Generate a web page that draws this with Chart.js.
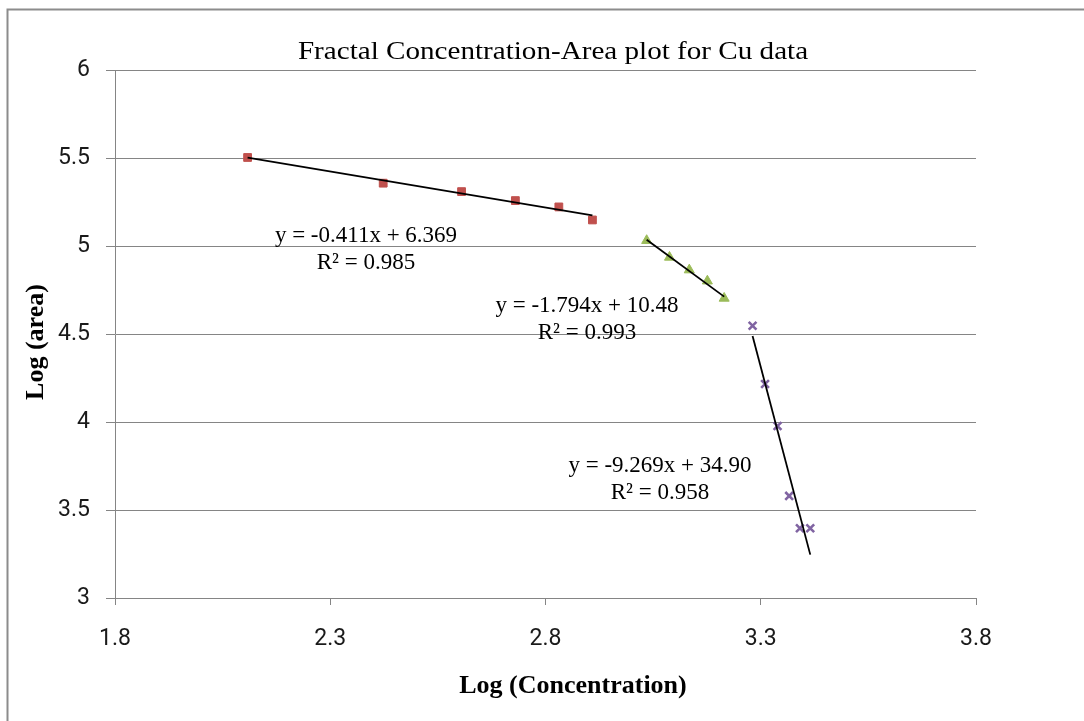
<!DOCTYPE html>
<html>
<head>
<meta charset="utf-8">
<script src="https://cdn.jsdelivr.net/npm/chart.js@4/dist/chart.umd.min.js"></script>
<style>
  html, body { margin: 0; padding: 0; background: #ffffff; }
  #wrap { position: relative; width: 1084px; height: 721px; overflow: hidden; }
  canvas { display: block; }
</style>
</head>
<body>
<div id="wrap"><canvas id="chart" width="1084" height="721"></canvas></div>
<script>
// Log(concentration) / Log(area) pairs for the three Cu populations
const highConcX = [2.108, 2.423, 2.605, 2.730, 2.831, 2.909];
const highConcY = [5.503, 5.357, 5.309, 5.258, 5.222, 5.148];
const midConcX = [3.035, 3.088, 3.134, 3.176, 3.215];
const midConcY = [5.031, 4.936, 4.864, 4.801, 4.703];
const lowConcX = [3.281, 3.310, 3.339, 3.366, 3.391, 3.415];
const lowConcY = [4.547, 4.216, 3.977, 3.580, 3.396, 3.396];

// Linear fits for each population: y = slope * x + intercept
const fitSlopes = [-0.411, -1.794, -9.269];
const fitIntercepts = [6.369, 10.48, 34.90];
const fitR2 = [0.985, 0.993, 0.958];

// Axis ticks
const xTickValues = [1.8, 2.3, 2.8, 3.3, 3.8];
const yTickValues = [3, 3.5, 4, 4.5, 5, 5.5, 6];

const pairs = (xs, ys) => xs.map((x, i) => ({ x: x, y: ys[i] }));
const fitLine = (xs, k) => {
  const lo = Math.min(...xs), hi = Math.max(...xs);
  return [lo, hi].map(x => ({ x: x, y: fitSlopes[k] * x + fitIntercepts[k] }));
};
const eqText = k => {
  const b = fitIntercepts[k];
  return 'y = ' + fitSlopes[k].toFixed(3) + 'x ' + (b < 0 ? '- ' : '+ ') + Math.abs(b).toPrecision(4);
};
const r2Text = k => 'R\u00B2 = ' + fitR2[k].toFixed(3);

const GRID = '#858585';
const SERIF = '"Liberation Serif", "Times New Roman", serif';

// Equation label placement (centre x, baseline of first line), pixels
const eqPlacement = [
  { cx: 366, y: 242 },
  { cx: 587, y: 312 },
  { cx: 660, y: 472 }
];

const annotations = {
  id: 'annotations',
  afterDraw(chart) {
    const ctx = chart.ctx;
    ctx.save();
    // outer frame
    ctx.strokeStyle = '#8c8c8c';
    ctx.lineWidth = 2;
    ctx.strokeRect(7.5, 9.5, 1200, 800);

    ctx.fillStyle = '#000000';
    ctx.textAlign = 'center';
    ctx.textBaseline = 'alphabetic';

    // title, set slightly wide
    ctx.save();
    ctx.font = '26px ' + SERIF;
    ctx.translate(553, 59);
    ctx.scale(1.12, 1);
    ctx.fillText('Fractal Concentration-Area plot for Cu data', 0, 0);
    ctx.restore();

    // fit equations
    ctx.font = '23px ' + SERIF;
    eqPlacement.forEach((p, k) => {
      ctx.fillText(eqText(k), p.cx, p.y);
      ctx.fillText(r2Text(k), p.cx, p.y + 27);
    });

    // axis titles
    ctx.font = 'bold 26px ' + SERIF;
    ctx.fillText('Log (Concentration)', 573, 693);
    ctx.save();
    ctx.translate(43, 342);
    ctx.rotate(-Math.PI / 2);
    ctx.fillText('Log (area)', 0, 0);
    ctx.restore();
    ctx.restore();
  }
};

const markerBase = { showLine: false, order: 1 };
const trendBase = {
  type: 'line', showLine: true, pointRadius: 0, borderColor: '#000000',
  borderWidth: 1.8, fill: false, tension: 0, order: 0
};

new Chart(document.getElementById('chart'), {
  type: 'scatter',
  data: {
    datasets: [
      Object.assign({}, trendBase, { label: 'fit 1', data: fitLine(highConcX, 0) }),
      Object.assign({}, trendBase, { label: 'fit 2', data: fitLine(midConcX, 1) }),
      Object.assign({}, trendBase, { label: 'fit 3', data: fitLine(lowConcX, 2) }),
      Object.assign({}, markerBase, {
        label: 'Series 1', data: pairs(highConcX, highConcY),
        pointStyle: 'rect', pointRadius: 5.5, borderWidth: 1,
        backgroundColor: '#C0504D', borderColor: '#C0504D'
      }),
      Object.assign({}, markerBase, {
        label: 'Series 2', data: pairs(midConcX, midConcY),
        pointStyle: 'triangle', pointRadius: 5.8, borderWidth: 1,
        backgroundColor: '#9BBB59', borderColor: '#9BBB59'
      }),
      Object.assign({}, markerBase, {
        label: 'Series 3', data: pairs(lowConcX, lowConcY),
        pointStyle: 'crossRot', pointRadius: 5.5, borderWidth: 2.6,
        backgroundColor: '#8064A2', borderColor: '#8064A2'
      })
    ]
  },
  options: {
    responsive: false,
    animation: false,
    devicePixelRatio: 1,
    layout: { padding: { left: 0, top: 70, right: 108, bottom: 0 } },
    plugins: { legend: { display: false }, title: { display: false }, tooltip: { enabled: false } },
    scales: {
      x: {
        type: 'linear', min: 1.8, max: 3.8,
        afterBuildTicks: s => { s.ticks = xTickValues.map(v => ({ value: v })); },
        afterFit: s => { s.height = 123; },
        grid: { drawOnChartArea: false, drawTicks: true, tickLength: 7, color: GRID, lineWidth: 1 },
        border: { display: true, color: GRID, width: 1 },
        ticks: {
          padding: 20, color: '#1a1a1a', maxRotation: 0, autoSkip: false,
          font: { family: 'Roboto', size: 23 },
          callback: v => String(v)
        }
      },
      y: {
        type: 'linear', min: 3, max: 6,
        afterBuildTicks: s => { s.ticks = yTickValues.map(v => ({ value: v })); },
        afterFit: s => { s.width = 115; },
        grid: { drawOnChartArea: true, drawTicks: true, tickLength: 9, color: GRID, lineWidth: 1 },
        border: { display: true, color: GRID, width: 1 },
        ticks: {
          padding: 16, color: '#1a1a1a', autoSkip: false,
          font: { family: 'Roboto', size: 23 },
          callback: v => String(v)
        }
      }
    }
  },
  plugins: [annotations]
});
</script>
</body>
</html>
